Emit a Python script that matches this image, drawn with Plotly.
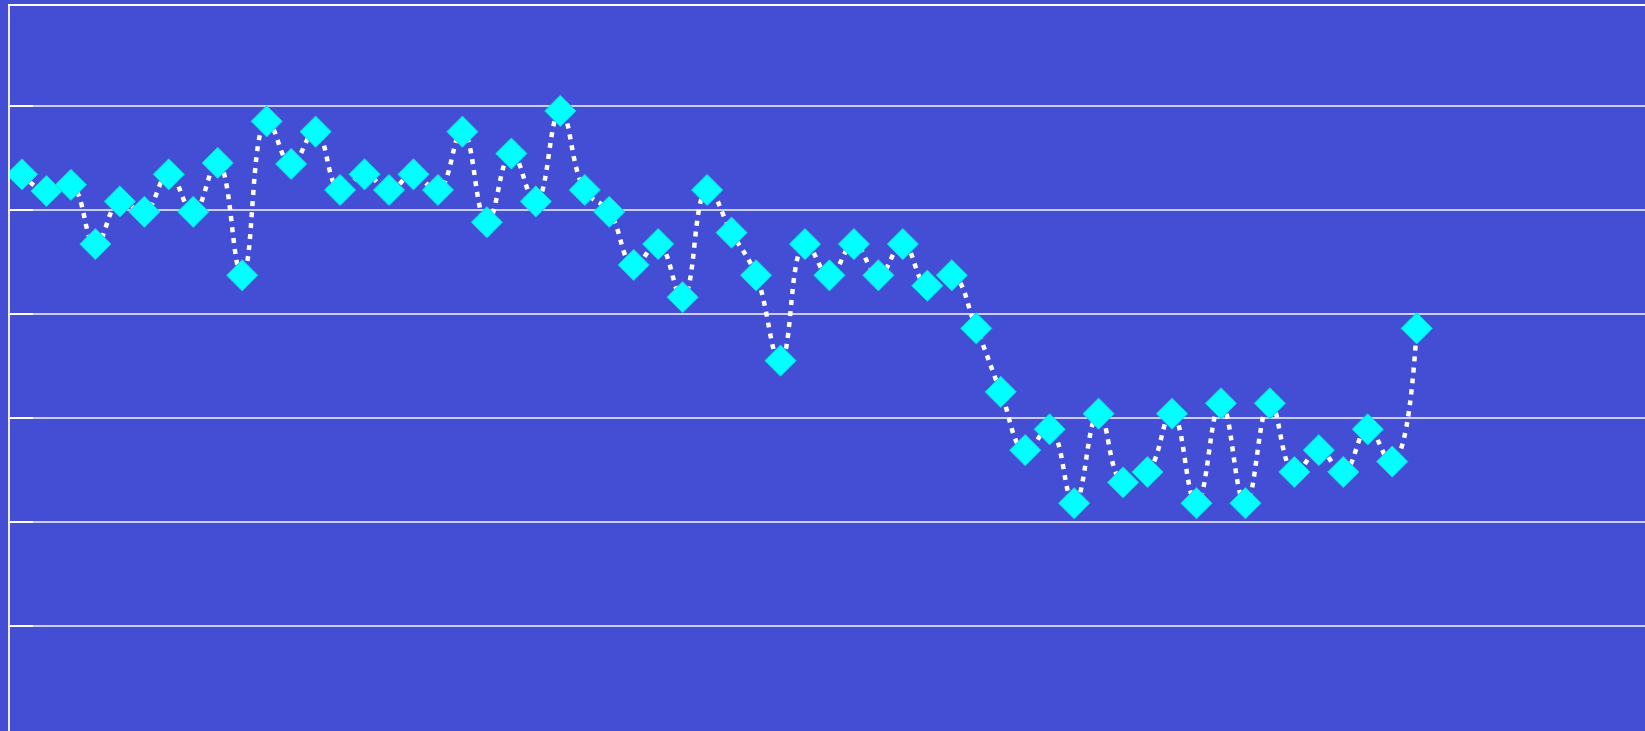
import plotly.graph_objects as go

# Series: 58 observations, indexed 1..58
x_index = list(range(1, 59))
values = [
    53.4, 51.8, 52.4, 46.7, 50.8, 49.8, 53.4, 49.8, 54.5, 43.7,
    58.5, 54.4, 57.5, 51.9, 53.4, 51.9, 53.4, 51.9, 57.5, 48.8,
    55.4, 50.8, 59.5, 51.9, 49.8, 44.7, 46.7, 41.6, 51.9, 47.8,
    43.7, 35.5, 46.7, 43.7, 46.7, 43.7, 46.7, 42.7, 43.7, 38.6,
    32.5, 26.9, 28.9, 21.8, 30.4, 23.8, 24.8, 30.4, 21.8, 31.4,
    21.8, 31.4, 24.8, 26.9, 24.8, 28.9, 25.8, 38.6,
]
y_ticks = [10, 20, 30, 40, 50, 60]

BG = "#434ED5"

fig = go.Figure()
fig.add_trace(go.Scatter(
    x=x_index,
    y=values,
    mode="lines+markers",
    line=dict(color="white", width=4.5, dash="5px,6px",
              shape="spline", smoothing=1.3),
    marker=dict(symbol="diamond", size=24, color="#00FFFF",
                line=dict(color="#16CDEE", width=1)),
    hoverinfo="x+y",
    showlegend=False,
))

fig.update_layout(
    width=1645,
    height=731,
    margin=dict(l=10, r=0, t=6, b=0),
    paper_bgcolor=BG,
    plot_bgcolor=BG,
    xaxis=dict(
        range=[0.51, 67.33],
        side="top",
        showline=True,
        linecolor="white",
        linewidth=2,
        showgrid=False,
        zeroline=False,
        showticklabels=False,
        ticks="",
    ),
    yaxis=dict(
        range=[-0.09, 69.58],
        tickvals=y_ticks,
        showline=True,
        linecolor="#ECECFA",
        linewidth=2,
        showgrid=True,
        gridcolor="rgba(255,255,255,0.72)",
        gridwidth=1.5,
        zeroline=False,
        ticks="inside",
        ticklen=23,
        tickwidth=1.5,
        tickcolor="white",
        showticklabels=False,
    ),
)

fig.write_html("out.html")
